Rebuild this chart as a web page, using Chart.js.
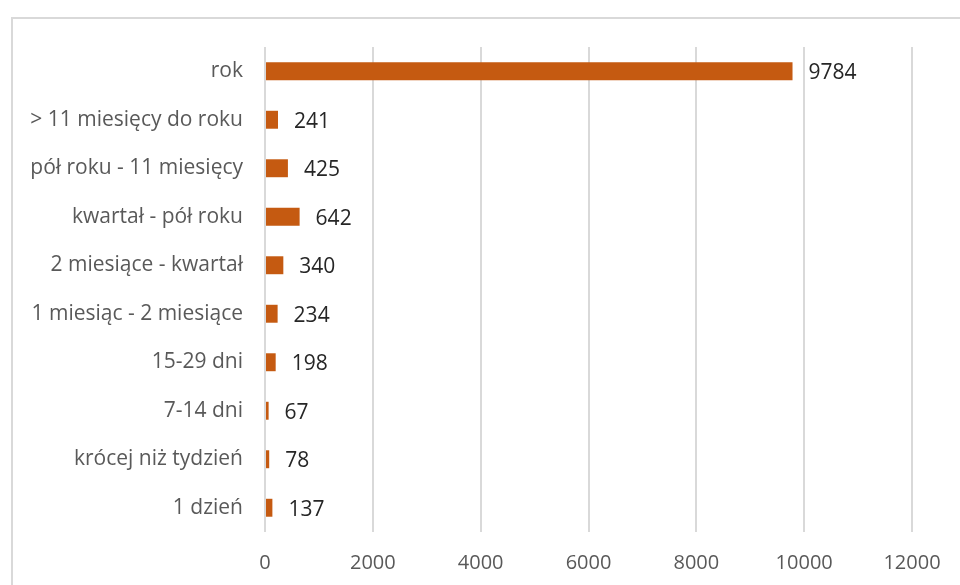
<!DOCTYPE html>
<html>
<head>
<meta charset="utf-8">
<script src="https://cdn.jsdelivr.net/npm/chart.js@4/dist/chart.umd.min.js"></script>
<style>
  html, body { margin: 0; padding: 0; background: #fff; }
  #wrap { position: relative; width: 960px; height: 585px; }
  #frame { position: absolute; left: 11px; top: 17px; right: -5px; bottom: -5px;
           border-left: 2px solid #d9d9d9; border-top: 2px solid #d9d9d9; }
  canvas { position: absolute; left: 0; top: 0; }
</style>
</head>
<body>
<div id="wrap">
  <div id="frame"></div>
  <canvas id="czasChart" width="960" height="585"></canvas>
</div>
<script>
// kategorie od góry do dołu
const categories = ['rok', '> 11 miesięcy do roku', 'pół roku - 11 miesięcy', 'kwartał - pół roku',
  '2 miesiące - kwartał', '1 miesiąc - 2 miesiące', '15-29 dni', '7-14 dni',
  'krócej niż tydzień', '1 dzień'];
const values = [9784, 241, 425, 642, 340, 234, 198, 67, 78, 137];
const xTicks = [0, 2000, 4000, 6000, 8000, 10000, 12000];

const FONT = '"Open Sans", "Noto Sans", sans-serif';

// etykiety wartości przy słupkach (bez pluginu datalabels)
const valueLabels = {
    id: 'valueLabels',
    afterDatasetsDraw(chart) {
        const ctx = chart.ctx;
        const meta = chart.getDatasetMeta(0);
        ctx.save();
        ctx.font = '21px ' + FONT;
        ctx.fillStyle = '#262626';
        ctx.textAlign = 'left';
        ctx.textBaseline = 'middle';
        meta.data.forEach((bar, i) => {
            ctx.fillText(String(values[i]), bar.x + 16, bar.y + 2);
        });
        ctx.restore();
    }
};

new Chart(document.getElementById('czasChart').getContext('2d'), {
    type: 'bar',
    data: {
        labels: categories,
        datasets: [{
            data: values,
            backgroundColor: '#C55A11',
            borderWidth: 0,
            categoryPercentage: 1,
            barPercentage: 0.37
        }]
    },
    options: {
        indexAxis: 'y',
        responsive: false,
        animation: false,
        layout: { padding: { top: 47, right: 48, left: 0, bottom: 0 } },
        plugins: {
            legend: { display: false },
            tooltip: { enabled: false }
        },
        scales: {
            x: {
                min: 0,
                max: 12000,
                afterBuildTicks: (scale) => { scale.ticks = xTicks.map(v => ({ value: v })); },
                afterFit: (scale) => { scale.height = 53; },
                grid: { color: '#d9d9d9', lineWidth: 2, drawTicks: false },
                border: { display: false },
                ticks: {
                    padding: 19,
                    color: '#595959',
                    font: { family: FONT, size: 20 },
                    callback: (v) => String(v)
                }
            },
            y: {
                afterFit: (scale) => { scale.width = 265; },
                grid: { display: false, drawTicks: false },
                border: { display: false },
                ticks: {
                    padding: 22,
                    color: '#595959',
                    font: { family: FONT, size: 21 }
                }
            }
        }
    },
    plugins: [valueLabels]
});
</script>
</body>
</html>
